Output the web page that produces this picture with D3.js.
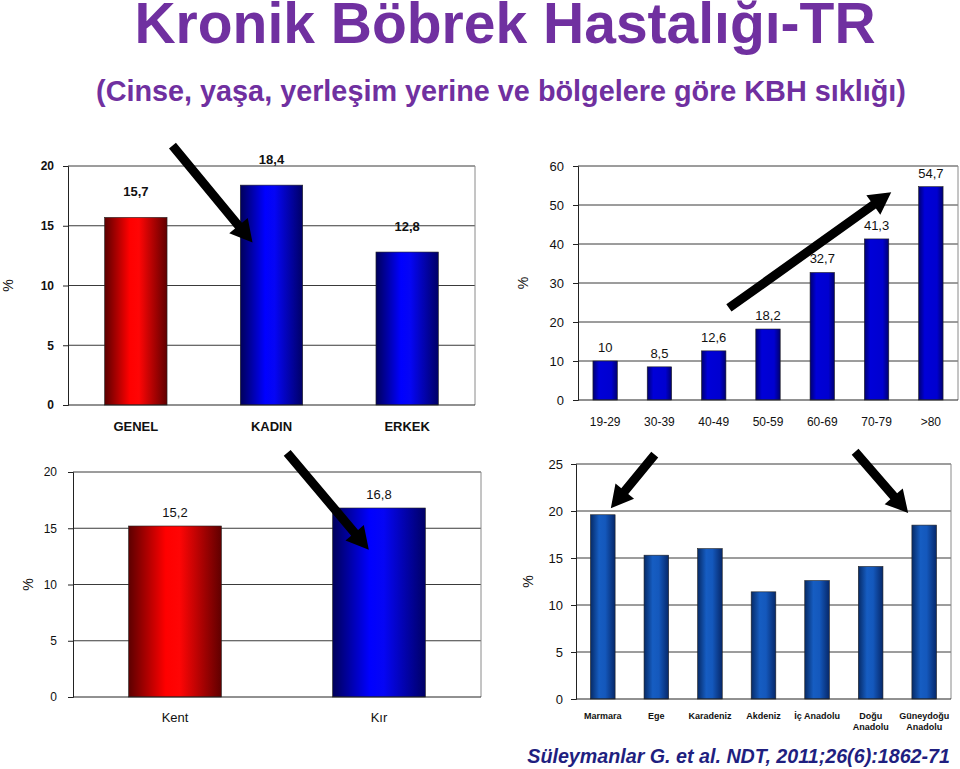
<!DOCTYPE html>
<html>
<head>
<meta charset="utf-8">
<script src="https://cdn.jsdelivr.net/npm/d3@7"></script>
<style>
  body { margin: 0; background: #fff; }
  svg { display: block; font-family: "Liberation Sans", Arial, sans-serif; }
</style>
</head>
<body>
<svg id="slide" width="960" height="769"></svg>
<script>
// ---- data ----
const sexCategories = ["GENEL", "KADIN", "ERKEK"];
const sexValues = [15.7, 18.4, 12.8];
const sexLabels = ["15,7", "18,4", "12,8"];

const ageCategories = ["19-29", "30-39", "40-49", "50-59", "60-69", "70-79", ">80"];
const ageValues = [10, 8.5, 12.6, 18.2, 32.7, 41.3, 54.7];
const ageLabels = ["10", "8,5", "12,6", "18,2", "32,7", "41,3", "54,7"];

const placeCategories = ["Kent", "Kır"];
const placeValues = [15.2, 16.8];
const placeLabels = ["15,2", "16,8"];

const regionCategories = ["Marmara", "Ege", "Karadeniz", "Akdeniz", "İç Anadolu", "Doğu\nAnadolu", "Güneydoğu\nAnadolu"];
const regionValues = [19.6, 15.3, 16.0, 11.4, 12.6, 14.1, 18.5];

const sexTicks = [0, 5, 10, 15, 20];
const ageTicks = [0, 10, 20, 30, 40, 50, 60];
const placeTicks = [0, 5, 10, 15, 20];
const regionTicks = [0, 5, 10, 15, 20, 25];

// arrows given as [category index, value] pairs
const sexArrows = [[[0.27, 21.7], [0.86, 13.6]]];
const ageArrows = [[[2.28, 23.6], [5.27, 53.3]]];
const placeArrows = [[[0.55, 21.7], [0.95, 13.1]]];
const regionArrows = [[[0.97, 26.0], [0.15, 20.3]], [[4.71, 26.3], [5.70, 19.8]]];

const svg = d3.select("#slide");

// ---- gradients ----
const defs = svg.append("defs");
function addGradient(id, stops) {
  const g = defs.append("linearGradient").attr("id", id)
    .attr("x1", "0%").attr("x2", "100%").attr("y1", "0%").attr("y2", "0%");
  stops.forEach(s => g.append("stop").attr("offset", s[0]).attr("stop-color", s[1]));
}
addGradient("redGrad", [["0%", "#5c0000"], ["40%", "#ff0000"], ["55%", "#ff0505"], ["100%", "#600000"]]);
addGradient("blueGrad", [["0%", "#00005a"], ["40%", "#0000ff"], ["55%", "#0505f5"], ["100%", "#000066"]]);
addGradient("ageGrad", [["0%", "#000070"], ["25%", "#0000d8"], ["75%", "#0000d0"], ["100%", "#000070"]]);
addGradient("regionGrad", [["0%", "#062a66"], ["35%", "#165dc2"], ["60%", "#1458bc"], ["100%", "#06286a"]]);

// ---- titles ----
svg.append("text")
  .attr("x", 505).attr("y", 43)
  .attr("text-anchor", "middle")
  .attr("font-size", 57).attr("font-weight", "bold")
  .attr("fill", "#7030a0")
  .text("Kronik Böbrek Hastalığı-TR");

svg.append("text")
  .attr("x", 501).attr("y", 101)
  .attr("text-anchor", "middle")
  .attr("font-size", 28.8).attr("font-weight", "bold")
  .attr("fill", "#7030a0")
  .text("(Cinse, yaşa, yerleşim yerine ve bölgelere göre KBH sıklığı)");

svg.append("text")
  .attr("x", 950).attr("y", 763)
  .attr("text-anchor", "end")
  .attr("font-size", 19.7).attr("font-weight", "bold").attr("font-style", "italic")
  .attr("fill", "#1f1f80")
  .text("Süleymanlar G. et al. NDT, 2011;26(6):1862-71");

// ---- one bar chart panel ----
function drawPanel(cfg) {
  const g = svg.append("g");
  const x = d3.scaleBand().domain(cfg.categories)
    .range([cfg.left, cfg.right]).paddingInner(cfg.padding).paddingOuter(cfg.padding / 2);
  const xi = d3.scaleLinear().domain([-0.5, cfg.categories.length - 0.5]).range([cfg.left, cfg.right]);
  const y = d3.scaleLinear().domain([0, d3.max(cfg.ticks)]).range([cfg.bottom, cfg.top]);

  // gridlines + frame
  g.append("g").selectAll("line")
    .data(cfg.ticks.filter(t => t > 0))
    .join("line")
      .attr("x1", cfg.left).attr("x2", cfg.right)
      .attr("y1", d => y(d)).attr("y2", d => y(d))
      .attr("stroke", "#3a3a3a").attr("stroke-width", 1);
  g.append("line")
    .attr("x1", cfg.right).attr("x2", cfg.right)
    .attr("y1", cfg.top).attr("y2", cfg.bottom)
    .attr("stroke", "#8a8a8a");

  // bars
  g.append("g").selectAll("rect")
    .data(cfg.values)
    .join("rect")
      .attr("x", (d, i) => x(cfg.categories[i]))
      .attr("width", x.bandwidth())
      .attr("y", d => y(d))
      .attr("height", d => y(0) - y(d))
      .attr("fill", (d, i) => `url(#${cfg.fills[i]})`)
      .attr("stroke", "#222").attr("stroke-width", 0.6);

  // value labels
  if (cfg.labels) {
    g.append("g").selectAll("text")
      .data(cfg.values)
      .join("text")
        .attr("x", (d, i) => x(cfg.categories[i]) + x.bandwidth() / 2)
        .attr("y", d => y(d) - cfg.labelGap)
        .attr("text-anchor", "middle")
        .attr("font-size", cfg.labelSize)
        .attr("font-weight", cfg.bold ? "bold" : "normal")
        .attr("fill", "#111")
        .text((d, i) => cfg.labels[i]);
  }

  // y axis
  const yAxis = g.append("g")
    .attr("transform", `translate(${cfg.left},0)`)
    .call(d3.axisLeft(y).tickValues(cfg.ticks).tickSize(5).tickPadding(cfg.tickPad).tickFormat(d3.format("d")));
  yAxis.select(".domain").attr("stroke", "#222");
  yAxis.selectAll(".tick line").attr("stroke", "#222");
  yAxis.selectAll("text")
    .attr("font-family", "Liberation Sans, Arial, sans-serif")
    .attr("font-size", cfg.tickSize)
    .attr("font-weight", cfg.bold ? "bold" : "normal")
    .attr("fill", "#111");

  // x axis line
  g.append("line")
    .attr("x1", cfg.left).attr("x2", cfg.right)
    .attr("y1", cfg.bottom).attr("y2", cfg.bottom)
    .attr("stroke", "#222");

  // category labels (may be two lines)
  const cats = g.append("g").selectAll("text")
    .data(cfg.categories)
    .join("text")
      .attr("x", d => x(d) + x.bandwidth() / 2)
      .attr("y", cfg.catY)
      .attr("text-anchor", "middle")
      .attr("font-size", cfg.catSize)
      .attr("font-weight", cfg.catBold ? "bold" : "normal")
      .attr("fill", "#111");
  cats.each(function(d) {
    const lines = d.split("\n");
    lines.forEach((ln, k) => {
      d3.select(this).append("tspan")
        .attr("x", x(d) + x.bandwidth() / 2)
        .attr("dy", k === 0 ? 0 : cfg.catSize + 1.5)
        .text(ln);
    });
  });

  // "%" title
  g.append("text")
    .attr("transform", `translate(${cfg.pctX},${(cfg.top + cfg.bottom) / 2}) rotate(-90)`)
    .attr("text-anchor", "middle")
    .attr("dy", "0.35em")
    .attr("font-size", 14)
    .attr("fill", "#111")
    .text("%");

  // arrows
  cfg.arrows.forEach(a => {
    const x0 = xi(a[0][0]), y0 = y(a[0][1]);
    const x1 = xi(a[1][0]), y1 = y(a[1][1]);
    drawArrow(x0, y0, x1, y1);
  });
}

function drawArrow(x0, y0, x1, y1) {
  const len = Math.hypot(x1 - x0, y1 - y0);
  const ux = (x1 - x0) / len, uy = (y1 - y0) / len;
  const px = -uy, py = ux;
  const shaft = 4.5, head = 12, headLen = 22;
  const bx = x1 - ux * headLen, by = y1 - uy * headLen;
  const pts = [
    [x0 + px * shaft, y0 + py * shaft],
    [bx + px * shaft, by + py * shaft],
    [bx + px * head, by + py * head],
    [x1, y1],
    [bx - px * head, by - py * head],
    [bx - px * shaft, by - py * shaft],
    [x0 - px * shaft, y0 - py * shaft]
  ];
  svg.append("polygon")
    .attr("points", pts.map(p => p.join(",")).join(" "))
    .attr("fill", "#000");
}

drawPanel({
  categories: sexCategories, values: sexValues, labels: sexLabels, ticks: sexTicks,
  fills: ["redGrad", "blueGrad", "blueGrad"],
  left: 68, right: 475, top: 166, bottom: 405, padding: 0.54,
  bold: true, labelSize: 13, labelGap: 21, tickSize: 12, tickPad: 9,
  catY: 431, catSize: 13, catBold: true, pctX: 8, arrows: sexArrows
});

drawPanel({
  categories: ageCategories, values: ageValues, labels: ageLabels, ticks: ageTicks,
  fills: ageCategories.map(() => "ageGrad"),
  left: 578, right: 958, top: 166, bottom: 400, padding: 0.55,
  bold: false, labelSize: 13, labelGap: 9, tickSize: 13, tickPad: 9,
  catY: 426, catSize: 12, catBold: false, pctX: 523, arrows: ageArrows
});

drawPanel({
  categories: placeCategories, values: placeValues, labels: placeLabels, ticks: placeTicks,
  fills: ["redGrad", "blueGrad"],
  left: 73, right: 481, top: 472, bottom: 697, padding: 0.545,
  bold: false, labelSize: 13, labelGap: 9, tickSize: 12, tickPad: 11,
  catY: 722, catSize: 13, catBold: false, pctX: 28, arrows: placeArrows
});

drawPanel({
  categories: regionCategories, values: regionValues, labels: null, ticks: regionTicks,
  fills: regionCategories.map(() => "regionGrad"),
  left: 576, right: 951, top: 464, bottom: 699, padding: 0.54,
  bold: false, labelSize: 12, labelGap: 9, tickSize: 13, tickPad: 8,
  catY: 719, catSize: 9, catBold: true, pctX: 528, arrows: regionArrows
});
</script>
</body>
</html>
